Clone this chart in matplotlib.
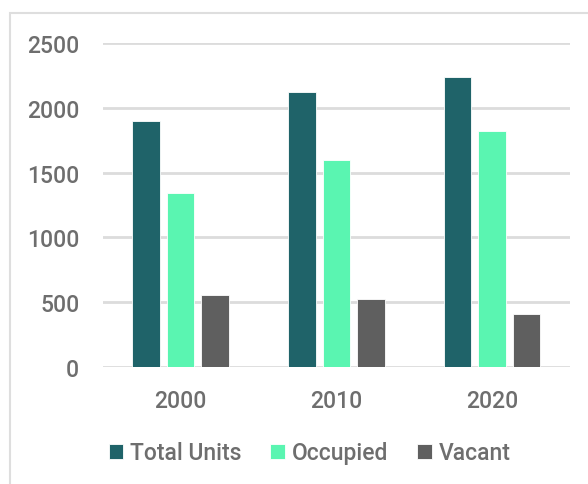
import numpy as np
import matplotlib
matplotlib.use("Agg")
import matplotlib.pyplot as plt
from matplotlib.patches import Rectangle

# data
years = ["2000", "2010", "2020"]
series = ["Total Units", "Occupied", "Vacant"]
total_units = [1900, 2125, 2240]
occupied = [1345, 1600, 1825]
vacant = [555, 522, 410]

colors = ["#1f6369", "#5af5b1", "#5f5f5f"]
text_color = "#6e6e6e"
grid_color = "#dcdcdc"

plt.rcParams["font.family"] = ["Roboto", "DejaVu Sans"]
plt.rcParams["font.weight"] = "medium"

fig = plt.figure(figsize=(5.88, 4.85), dpi=100)
ax = fig.add_axes([0.175, 0.2412, 0.794, 0.668])

# light frame around the chart, running off the right/bottom edges
fig.patches.append(Rectangle((10 / 588, -0.1), 2.0, 1 - 14 / 485 + 0.1,
                             transform=fig.transFigure, fill=False,
                             edgecolor="#dedede", linewidth=1.5))

x = np.arange(len(years))
bar_w = 0.177
step = 0.222
for i, (name, vals) in enumerate(zip(series, [total_units, occupied, vacant])):
    ax.bar(x + (i - 1) * step, vals, width=bar_w, color=colors[i],
           edgecolor="#ffffff", linewidth=0.6, label=name, zorder=3)

ax.set_xlim(-0.5, 2.5)
ax.set_ylim(0, 2500)
ax.set_yticks(range(0, 2501, 500))
ax.set_xticks(x)
ax.set_xticklabels(years)
ax.yaxis.grid(True, color=grid_color, linewidth=2, zorder=0)
ax.set_axisbelow(True)
for s in ax.spines.values():
    s.set_visible(False)
ax.tick_params(axis="both", length=0, colors=text_color, labelsize=16.5)
ax.tick_params(axis="y", pad=17)
ax.tick_params(axis="x", pad=16)

ax.legend(loc="center", bbox_to_anchor=(0.443, -0.265), ncol=3, frameon=False,
          fontsize=16.5, labelcolor=text_color, handlelength=0.65,
          handleheight=0.65, handletextpad=0.3, columnspacing=1.25)

fig.savefig("out.png", dpi=100, facecolor="white")
